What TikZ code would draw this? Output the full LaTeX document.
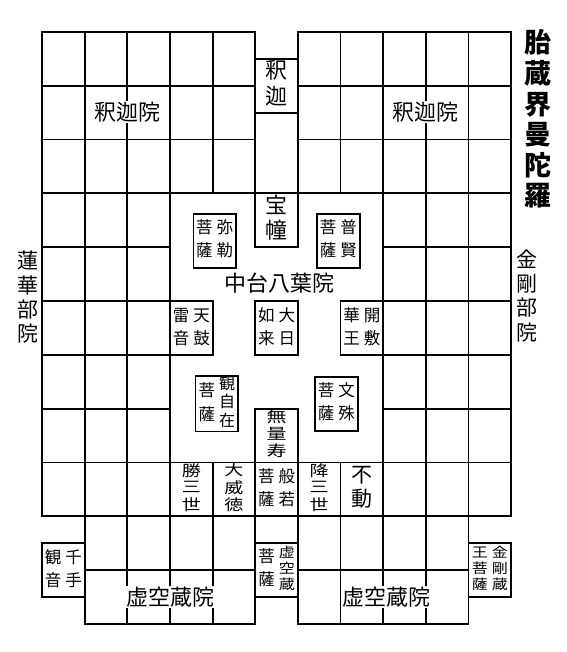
\documentclass[tikz,border=0pt]{standalone}
\usepackage{fontspec}
\usepackage{graphicx}
\newfontfamily\jp{Noto Sans CJK JP}
\newcommand\vcol[3]{{\fontsize{#1}{#2}\selectfont\begin{tabular}[c]{@{}c@{}}#3\end{tabular}}}
\newcommand\pcol[1]{\vcol{16.5}{23}{#1}}
\newcommand\scol[1]{\scalebox{1}[0.8]{\vcol{19}{20}{#1}}}
\newcommand\tcol[1]{\scalebox{1}[0.85]{\vcol{16}{18}{#1}}}
\newcommand\gap{\hspace{4pt}}
\begin{document}
\begin{tikzpicture}[x=42.65pt, y=-53.8pt, line width=1.8pt, line cap=rect, font=\jp,
  bx/.style={draw, fill=white, minimum width=42.65pt, minimum height=53.8pt, inner sep=0pt},
  lbl/.style={fill=white, inner sep=1pt, font=\jp\fontsize{22}{22}\selectfont},
  txt/.style={inner sep=0pt}]
\useasboundingbox (-42pt,32pt) rectangle (524pt,-620pt);
% top grids
\foreach \y in {0,1,2,3} { \draw (0,\y) -- (5,\y); \draw (6,\y) -- (11,\y); }
\foreach \x in {0,...,5} \draw (\x,0) -- (\x,3);
\foreach \x in {6,...,11} \draw (\x,0) -- (\x,3);
% middle side grids
\foreach \y in {4,...,7} { \draw (0,\y) -- (3,\y); \draw (8,\y) -- (11,\y); }
\foreach \x in {0,...,3} \draw (\x,3) -- (\x,8);
\foreach \x in {8,...,11} \draw (\x,3) -- (\x,8);
% full row 8
\foreach \y in {8,9} \draw (0,\y) -- (11,\y);
\foreach \x in {0,...,11} \draw (\x,8) -- (\x,9);
% bottom grids
\foreach \y in {10,11} { \draw (1,\y) -- (5,\y); \draw (6,\y) -- (10,\y); }
\foreach \x in {1,...,5} \draw (\x,9) -- (\x,11);
\foreach \x in {6,...,10} \draw (\x,9) -- (\x,11);

% labels of the courts
\node[lbl] (shakaL) at (2.0,1.49) {釈迦院};
\node[lbl] (shakaR) at (9.0,1.49) {釈迦院};
\node[lbl] (kokuL) at (3.02,10.5) {虚空蔵院};
\node[lbl] (kokuR) at (8.08,10.5) {虚空蔵院};
\node[txt] (chudai) at (5.58,4.665) {\fontsize{22}{22}\selectfont 中台八葉院};
\node[txt] (renge) at (-0.33,4.98) {\vcol{21}{22.7}{蓮\\華\\部\\院}};
\node[txt] (kongo) at (11.36,4.95) {\vcol{21}{22.7}{金\\剛\\部\\院}};
\node[txt] (title) at (11.62,1.667) {\bfseries\vcol{27}{26.7}{胎\\蔵\\界\\曼\\陀\\羅}};

% boxes in the central column
\node[bx] (shaka) at (5.5,1.0) {\vcol{22}{23}{釈\\迦}};
\node[bx] (hodo) at (5.5,3.5) {\vcol{22}{23}{宝\\幢}};
\node[bx] (dainichi) at (5.5,5.5) {\pcol{如\\来}\gap\pcol{大\\日}};
\node[bx] (muryoju) at (5.5,7.5) {\scalebox{1}[0.75]{\vcol{20}{21}{無\\量\\寿}}};
\node[bx] (kokuzo) at (5.5,10.0) {\pcol{菩\\薩}\gap\tcol{虚\\空\\蔵}};
% boxes around
\node[bx] (miroku) at (4.05,3.88) {\pcol{菩\\薩}\gap\pcol{弥\\勒}};
\node[bx] (fugen) at (6.95,3.88) {\pcol{菩\\薩}\gap\pcol{普\\賢}};
\node[bx] (tenku) at (3.5,5.5) {\pcol{雷\\音}\gap\pcol{天\\鼓}};
\node[bx] (kaifu) at (7.5,5.5) {\pcol{華\\王}\gap\pcol{開\\敷}};
\node[bx] (kannon) at (4.1,6.91) {\vcol{16.5}{24}{菩\\薩}\gap\vcol{16}{17}{観\\自\\在}};
\node[bx] (monju) at (6.9,6.91) {\pcol{菩\\薩}\gap\pcol{文\\殊}};
\node[bx] (senju) at (0.5,10.0) {\pcol{観\\音}\gap\pcol{千\\手}};
\node[bx] (kongozo) at (10.5,10.0) {\tcol{王\\菩\\薩}\gap\tcol{金\\剛\\蔵}};

% row of the Vidyarajas
\node[txt] (gosanze) at (3.5,8.5) {\scol{勝\\三\\世}};
\node[txt] (daiitoku) at (4.5,8.5) {\scol{大\\威\\徳}};
\node[txt] (hannya) at (5.5,8.5) {\pcol{菩\\薩}\gap\pcol{般\\若}};
\node[txt] (gosanze2) at (6.5,8.5) {\scol{降\\三\\世}};
\node[txt] (fudo) at (7.5,8.5) {\vcol{21}{21}{不\\動}};
\end{tikzpicture}
\end{document}
